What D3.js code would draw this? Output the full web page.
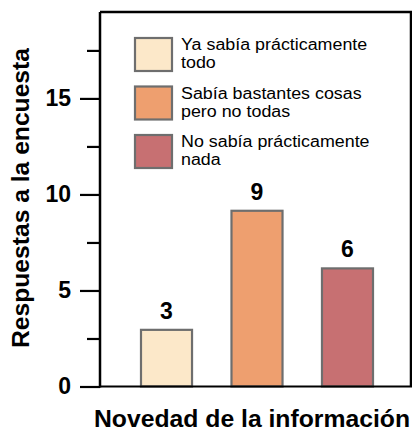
<!DOCTYPE html>
<html><head><meta charset="utf-8">
<script src="https://cdn.jsdelivr.net/npm/d3@7"></script>
<style>body{margin:0;background:#fff}svg{display:block}text{font-family:"Liberation Sans",Arial,sans-serif}</style>
</head><body>
<svg id="c" width="412" height="431"></svg>
<script>
const categories = ["Ya sabía prácticamente todo", "Sabía bastantes cosas pero no todas", "No sabía prácticamente nada"];
const legendLines = [["Ya sabía prácticamente", "todo"], ["Sabía bastantes cosas", "pero no todas"], ["No sabía prácticamente", "nada"]];
const values = [2.95, 9.15, 6.15];
const valueLabels = ["3", "9", "6"];
const colors = ["#FCE8C9", "#EE9F6F", "#C77072"];
const majorTicks = [0, 5, 10, 15];
const minorTicks = [2.5, 7.5, 12.5, 17.5];
const yTitle = "Respuestas a la encuesta";
const xTitle = "Novedad de la información";

const svg = d3.select("#c");
const L = 100, R = 411, T = 12, B = 386.5;
const y = d3.scaleLinear().domain([0, 19.5]).range([B, T]);
const x = d3.scaleBand().domain(categories).range([120, 394]).paddingInner(0.436).paddingOuter(0.232);

// frame top/right
svg.append("path").attr("d", `M${L},${T}H${R}V${B}`).attr("fill","none").attr("stroke","#000").attr("stroke-width",2.5);

// bars
svg.selectAll("rect.bar").data(values).enter().append("rect")
  .attr("x", (d,i)=>x(categories[i])).attr("width", x.bandwidth())
  .attr("y", d=>y(d)).attr("height", d=>y(0)-y(d))
  .attr("fill",(d,i)=>colors[i]).attr("stroke","#6e6e6e").attr("stroke-width",2.2);

svg.selectAll("text.vl").data(values).enter().append("text")
  .attr("x",(d,i)=>x(categories[i])+x.bandwidth()/2).attr("y",d=>y(d)-11)
  .attr("text-anchor","middle").attr("font-weight","bold").attr("font-size",23)
  .text((d,i)=>valueLabels[i]);

// y axis
const yAxis = d3.axisLeft(y).tickValues(majorTicks).tickSize(20).tickPadding(9);
const gy = svg.append("g").attr("transform",`translate(${L},0)`).call(yAxis);
gy.select(".domain").attr("stroke","#000").attr("stroke-width",2.5).attr("d",`M0,${T}V${B+1}`);
gy.selectAll(".tick line").attr("stroke","#000").attr("stroke-width",2.2);
gy.selectAll(".tick text").attr("font-size",23).attr("font-weight","bold").attr("fill","#000").attr("font-family","Liberation Sans, Arial, sans-serif");
const gym = svg.append("g").attr("transform",`translate(${L},0)`).call(d3.axisLeft(y).tickValues(minorTicks).tickSize(13).tickFormat(""));
gym.select(".domain").remove();
gym.selectAll(".tick line").attr("stroke","#000").attr("stroke-width",2.2);

// x axis baseline
svg.append("line").attr("x1",L).attr("x2",R+1).attr("y1",B).attr("y2",B).attr("stroke","#000").attr("stroke-width",2.2);

// legend
const lg = svg.append("g");
legendLines.forEach((lines,i)=>{
  const top = 38 + i*48.5;
  lg.append("rect").attr("x",135).attr("y",top).attr("width",37).attr("height",33)
    .attr("fill",colors[i]).attr("stroke","#6e6e6e").attr("stroke-width",2.2);
  lines.forEach((t,j)=>{
    const tx = lg.append("text").attr("x",181).attr("y",top+12+j*18.3).attr("font-size",15.8).attr("fill","#000").text(t);
    const w = tx.node().getComputedTextLength();
    tx.attr("textLength", w*1.13).attr("lengthAdjust","spacingAndGlyphs");
  });
});

// titles
svg.append("text").attr("transform",`translate(29,198) rotate(-90)`).attr("text-anchor","middle")
  .attr("font-weight","bold").attr("font-size",24).attr("textLength",300).attr("lengthAdjust","spacingAndGlyphs").text(yTitle);
svg.append("text").attr("x",252).attr("y",427).attr("text-anchor","middle")
  .attr("font-weight","bold").attr("font-size",23).attr("textLength",316).attr("lengthAdjust","spacingAndGlyphs").text(xTitle);
</script>
</body></html>
